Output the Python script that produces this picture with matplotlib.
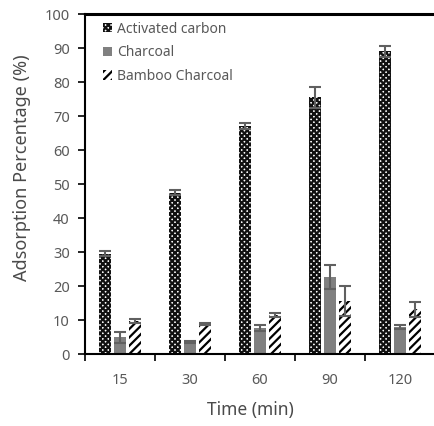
import matplotlib
matplotlib.use("Agg")
import matplotlib.pyplot as plt
import numpy as np

categories = ["15", "30", "60", "90", "120"]
activated = [29.5, 47.5, 67.0, 75.5, 89.0]
activated_err = [0.7, 0.8, 0.8, 3.0, 1.5]
charcoal = [4.9, 3.5, 7.6, 22.6, 7.9]
charcoal_err = [1.6, 0.4, 0.8, 3.5, 0.6]
bamboo = [9.8, 8.8, 11.4, 15.6, 13.1]
bamboo_err = [0.6, 0.4, 0.6, 4.3, 2.2]

plt.rcParams['font.family'] = ['Noto Sans', 'DejaVu Sans']
plt.rcParams['hatch.linewidth'] = 1.6

fig = plt.figure(figsize=(4.35, 4.26), dpi=100)
ax = fig.add_axes([85/435, 1-354/426, 350/435, 340/426])

x = np.arange(len(categories))
w = 0.168
off = 0.218
gray_txt = '#595959'
ecol = '#606060'
ekw = dict(ecolor=ecol, elinewidth=1.5, capsize=4, capthick=1.5)

ax.bar(x - off, activated, w, yerr=activated_err, color='white', edgecolor='#111111',
       hatch='xxxxxx', linewidth=0, error_kw=ekw, label='Activated carbon')
ax.bar(x, charcoal, w, yerr=charcoal_err, color='#808080', linewidth=0,
       error_kw=ekw, label='Charcoal')
ax.bar(x + off, bamboo, w, yerr=bamboo_err, color='white', edgecolor='black',
       hatch='////', linewidth=0, error_kw=ekw, label='Bamboo Charcoal')

ax.set_xlim(-0.5, -0.5 + 350/71.75)
ax.set_ylim(0, 100)
ax.set_yticks(np.arange(0, 101, 10))
ax.set_xticks(x)
ax.set_xticklabels(categories)
ax.set_xticks(np.arange(-0.5, 4.6, 1.0), minor=True)
ax.tick_params(axis='x', which='major', length=0, pad=14, labelsize=10.5, labelcolor=gray_txt)
ax.tick_params(axis='x', which='minor', length=5, width=1.2, direction='out')
ax.tick_params(axis='y', which='major', length=5, width=1.2, direction='out',
               labelsize=10.5, labelcolor=gray_txt, pad=6)

ax.spines['right'].set_visible(False)
ax.spines['top'].set_linewidth(2.2)
ax.spines['left'].set_linewidth(1.5)
ax.spines['bottom'].set_linewidth(1.5)

fig.text(22/435, 1-168/426, 'Adsorption Percentage (%)', rotation=90, fontsize=13,
         color='#4a4a4a', ha='center', va='center', fontweight='light')
fig.text(250/435, 1-410/426, 'Time (min)', fontsize=12.5, color='#4a4a4a',
         ha='center', va='center', fontweight='light')

ax.legend(loc='upper left', bbox_to_anchor=(0.015, 1.014), frameon=False,
          fontsize=10, handlelength=0.65, handleheight=0.65, handletextpad=0.4,
          labelspacing=0.62, labelcolor=gray_txt)

fig.savefig('out.png', dpi=100)
